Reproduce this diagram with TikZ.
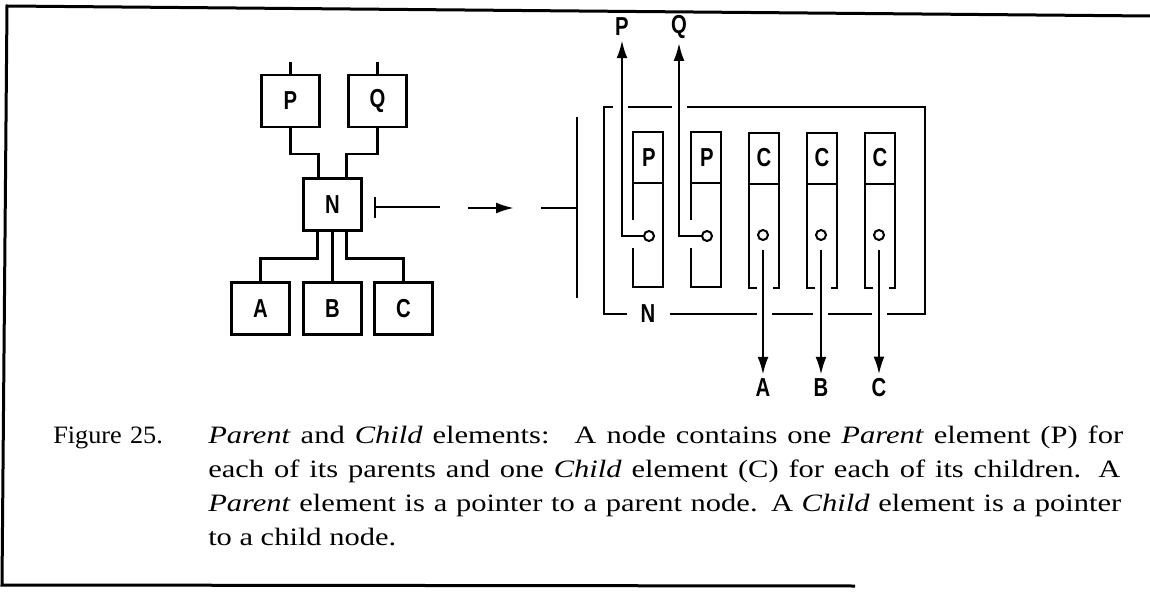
\documentclass[tikz,border=0pt]{standalone}
\usepackage{fontspec}
\setmainfont[FakeStretch=1.22]{Liberation Serif}
\newfontfamily\figfont[FakeStretch=1.05]{Liberation Serif}
\newfontfamily\lblfont[FakeStretch=0.78]{Liberation Sans Bold}
\usetikzlibrary{arrows.meta,calc}
\begin{document}
\begin{tikzpicture}[x=1pt,y=-1pt,line width=2.5pt,
  box/.style={draw,minimum width=58pt,minimum height=52pt,inner sep=0pt,
    font=\lblfont\fontsize{26}{26}\selectfont},
  lbl/.style={font=\lblfont\fontsize{26}{26}\selectfont,inner sep=3pt},
  ring/.style={draw,circle,minimum size=10pt,inner sep=0pt,line width=2pt},
  ptr/.style={-{Latex[length=18pt,width=11pt]}},
  frame/.style={line width=3pt},
  capline/.style={anchor=base west,inner sep=0pt,font=\fontsize{25}{30}\selectfont}]
\useasboundingbox (0,0) rectangle (1150,593);
% frame
\draw[frame] (1150,16) -- (7,6) -- (2,585) -- (855,586);
% ---------- left tree ----------
\node[box] (nP) at (290.5,101) {P};
\node[box] (nQ) at (377.5,101) {Q};
\node[box] (nN) at (332.5,204.5) {N};
\node[box] (nA) at (260.5,308.5) {A};
\node[box] (nB) at (332.5,308.5) {B};
\node[box] (nC) at (403.5,308.5) {C};
\draw (nP.north) -- ++(0,-12);
\draw (nQ.north) -- ++(0,-12);
\draw (nP.south) -- ++(0,26) -| ([xshift=-14pt]nN.north);
\draw (nQ.south) -- ++(0,26) -| ([xshift=14pt]nN.north);
\draw ([xshift=-15pt]nN.south) -- ++(0,27) -| (nA.north);
\draw (nN.south) -- (nB.north);
\draw ([xshift=14pt]nN.south) -- ++(0,27) -| (nC.north);
% T bar and arrow
\coordinate (teeTop) at (375,197);
\coordinate (teeBot) at (375,218);
\coordinate (teeMid) at (375,207);
\coordinate (teeEnd) at (440,207);
\draw (teeTop) -- (teeBot);
\draw (teeMid) -- (teeEnd);
\coordinate (arS) at (468,208);
\coordinate (arE) at (514,208);
\draw[ptr] (arS) -- (arE);
\coordinate (barL) at (541,208);
\coordinate (barM) at (577,208);
\draw (barL) -- (barM);
\draw (577,117) -- (577,298);
% ---------- N bracket ----------
\draw (613,107) -- (604,107) -- (604,314) -- (627,314);
\draw (628,107) -- (672,107);
\draw (687,107) -- (925,107) -- (925,314) -- (887,314);
\node[lbl] (bN) at (648,314) {N};
\draw (670,314) -- (757,314);
\draw (772,314) -- (813,314);
\draw (828,314) -- (872,314);
% ---------- parent elements ----------
\node[lbl] (tP) at (622,27) {P};
\node[lbl] (tQ) at (679,27) {Q};
\foreach \xl/\nm/\tg in {633/pa/tP,691/pb/tQ}{
  \draw (\xl,220) -- (\xl,132) -- (\xl+30,132) -- (\xl+30,287) -- (\xl,287) -- (\xl,248);
  \draw (\xl,183) -- (\xl+30,183);
  \node[lbl] (\nm lab) at (\xl+16,157.5) {P};
  \node[ring] (\nm ring) at (\xl+16,236) {};
  \draw[ptr] (\nm ring.west) -| (\tg);
}
% ---------- child elements ----------
\foreach \xl/\nm/\t in {749/ca/A,807/cb/B,865/cc/C}{
  \draw (\xl+8,288) -- (\xl,288) -- (\xl,133) -- (\xl+30,133) -- (\xl+30,288) -- (\xl+24,288);
  \draw (\xl,184) -- (\xl+30,184);
  \node[lbl] (\nm lab) at (\xl+15,158) {C};
  \node[ring] (\nm ring) at (\xl+14,235) {};
  \node[lbl] (\nm tgt) at (\xl+14,388) {\t};
  \draw[ptr,shorten <=9pt] (\nm ring.south) -- (\nm tgt.north);
}
% ---------- caption ----------
\node[capline,font=\figfont\fontsize{25}{30}\selectfont] (figno) at (52,443) {Figure\,\,25.};
\node[capline] (cap1) at (207,443) {\makebox[915pt][s]{\textit{Parent} and \textit{Child} elements:\quad A node contains one \textit{Parent} element (P) for}};
\node[capline] (cap2) at (207,477) {\makebox[912pt][s]{each of its parents and one \textit{Child} element (C) for each of its children. A}};
\node[capline] (cap3) at (207,511) {\makebox[913pt][s]{\textit{Parent} element is a pointer to a parent node. A \textit{Child} element is a pointer}};
\node[capline] (cap4) at (207,545) {to a child node.};
\end{tikzpicture}
\end{document}
